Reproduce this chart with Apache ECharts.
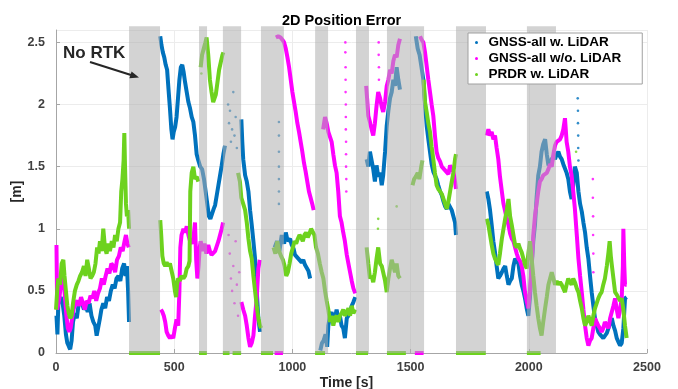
<!DOCTYPE html>
<html>
<head>
<meta charset="utf-8">
<title>2D Position Error</title>
<script src="https://cdn.jsdelivr.net/npm/echarts@6/dist/echarts.min.js"></script>
<style>
    html, body { margin: 0; padding: 0; background: #fff; }
    #chart { width: 678px; height: 389px; }
</style>
</head>
<body>
<div id="chart"></div>
<script>
// time axis [s] and error axis [m]
var xTicks = [0, 500, 1000, 1500, 2000, 2500];
var yTicks = [0, 0.5, 1, 1.5, 2, 2.5];

// "No RTK" periods [start, end] in s
var noRtk = [[309, 440], [605, 639], [706, 783], [867, 964], [1096, 1151],
    [1269, 1324], [1400, 1557], [1692, 1819], [1992, 2115]];

var names = ['GNSS-all w. LiDAR', 'GNSS-all w/o. LiDAR', 'PRDR w. LiDAR'];

// GNSS-all w. LiDAR, one array per continuous piece
var blueSegs = [
    [[2,0.3],[6,0.15],[10,0.4],[15,0.42],[20,0.45],[28,0.4],[35,0.3],[42,0.15],[48,0.08],[55,0.05],[60,0.03],[66,0.1],[72,0.25],[80,0.32],[88,0.28],[95,0.38],[102,0.42],[110,0.4],[118,0.35],[126,0.38],[134,0.33],[142,0.4],[150,0.3],[158,0.25],[166,0.22],[172,0.14],[178,0.2],[185,0.27],[192,0.35],[200,0.4],[208,0.36],[216,0.45],[224,0.42],[232,0.5],[240,0.55],[248,0.52],[256,0.6],[264,0.62],[272,0.58],[280,0.68],[288,0.72],[294,0.62],[300,0.7],[305,0.5],[309,0.25]],
    [[441,2.55],[446,2.48],[452,2.42],[458,2.38],[464,2.32],[470,2.28],[476,2.12],[482,1.97],[488,1.8],[493,1.72],[498,1.78],[504,1.82],[510,1.9],[516,2.05],[522,2.2],[528,2.3],[534,2.32],[540,2.26],[546,2.18],[553,2.1],[560,2.02],[567,1.97],[574,1.9],[581,1.86],[588,1.75],[595,1.6],[602,1.55],[610,1.5],[618,1.48],[626,1.4],[633,1.3],[640,1.2],[647,1.1],[653,1.08],[660,1.12],[667,1.16],[673,1.19],[680,1.27],[687,1.35],[694,1.43],[701,1.51],[708,1.6],[715,1.67]],
    [[784,1.88],[788,1.7],[792,1.56],[800,1.43],[807,1.38],[814,1.3],[821,1.15],[828,1.03],[835,0.9],[842,0.76],[849,0.5],[856,0.28],[863,0.17]],
    [[925,0.85],[935,0.9],[945,0.82],[955,0.95],[965,0.88],[972,0.97],[980,0.9],[990,0.92],[997,0.87],[1005,0.84],[1011,0.79],[1018,0.8],[1025,0.76],[1032,0.77],[1039,0.73],[1046,0.75],[1053,0.71],[1060,0.72],[1068,0.66],[1075,0.6]],
    [[1118,0.02],[1125,0.08],[1132,0.1],[1140,0.15],[1147,0.05],[1152,0.22],[1159,0.3],[1166,0.33],[1173,0.25],[1180,0.28],[1187,0.35],[1194,0.28],[1201,0.3],[1208,0.22],[1215,0.2],[1222,0.12],[1230,0.28],[1237,0.3],[1244,0.33],[1251,0.38],[1258,0.41],[1266,0.45]],
    [[1314,1.56],[1321,1.5],[1328,1.62],[1335,1.55],[1342,1.48],[1349,1.38],[1356,1.51],[1363,1.42],[1371,1.45],[1378,1.35],[1384,1.43],[1392,1.62],[1399,1.83],[1406,1.95],[1413,2.05],[1420,2.1],[1427,2.2],[1434,2.15],[1441,2.3],[1448,2.2],[1455,2.12]],
    [[1522,2.55],[1530,2.45],[1538,2.4],[1546,2.3],[1554,2.2],[1561,2.0],[1568,1.83],[1575,1.72],[1582,1.62],[1589,1.52],[1596,1.46],[1603,1.43],[1610,1.4],[1617,1.35],[1625,1.3],[1632,1.27],[1639,1.22],[1646,1.18],[1653,1.16],[1660,1.2],[1667,1.19],[1674,1.15],[1681,1.14],[1688,1.05],[1692,0.95]],
    [[1822,1.3],[1829,1.24],[1836,1.15],[1843,1.03],[1850,0.9],[1857,0.81],[1864,0.7],[1871,0.6],[1878,0.62],[1886,0.65],[1893,0.68],[1900,0.7],[1907,0.62],[1914,0.55],[1921,0.58],[1928,0.6],[1935,0.7],[1942,0.76],[1949,0.74],[1956,0.72],[1963,0.62],[1970,0.55],[1977,0.5],[1984,0.44],[1991,0.36],[1998,0.3],[2005,0.45],[2012,0.7],[2019,0.9],[2026,1.03],[2033,1.25],[2040,1.43],[2047,1.5],[2054,1.62],[2061,1.68],[2069,1.72],[2076,1.6],[2083,1.51],[2090,1.54],[2097,1.54],[2104,1.58],[2111,1.56],[2118,1.6],[2125,1.62],[2132,1.58],[2139,1.56],[2146,1.52],[2153,1.51],[2160,1.45],[2167,1.4],[2174,1.3],[2181,1.24],[2188,1.35],[2195,1.5],[2203,1.45],[2210,1.3],[2217,1.2],[2224,1.14],[2231,1.05],[2238,0.97],[2245,0.85],[2252,0.76],[2259,0.62],[2266,0.49],[2273,0.38],[2280,0.28],[2287,0.22],[2294,0.17],[2301,0.15],[2308,0.14],[2315,0.12],[2322,0.12],[2330,0.16],[2337,0.2],[2344,0.25],[2351,0.28],[2358,0.22],[2365,0.18],[2372,0.12],[2379,0.09],[2386,0.06],[2393,0.08],[2400,0.2],[2407,0.44],[2414,0.45]]
];
var blueDots = [[728,2.0],[732,1.85],[736,1.95],[740,1.7],[745,1.8],[750,2.1],[755,1.75],[760,1.9],[765,1.65],
    [943,1.86],[943,1.75],[943,1.62],[943,1.5],[943,1.4],[943,1.3],[943,1.2],
    [2205,2.35],[2207,2.2],[2207,2.05],[2208,1.95],[2208,1.85],[2209,1.75],[2209,1.65],[2210,1.55]];

// GNSS-all w/o. LiDAR
var magentaSegs = [
    [[2,0.87],[5,0.35],[10,0.4],[15,0.45],[20,0.55],[26,0.62],[32,0.58],[38,0.45],[44,0.3],[50,0.2],[56,0.17],[62,0.2],[68,0.28],[74,0.35],[82,0.4],[90,0.42],[98,0.38],[106,0.45],[114,0.4],[122,0.35],[130,0.42],[138,0.4],[146,0.46],[154,0.44],[162,0.5],[170,0.42],[178,0.48],[186,0.52],[194,0.6],[202,0.55],[210,0.62],[218,0.68],[226,0.64],[234,0.72],[242,0.7],[250,0.65],[258,0.75],[266,0.78],[274,0.85],[282,0.82],[290,0.9],[296,0.95],[302,0.88],[308,0.85]],
    [[444,0.35],[450,0.33],[456,0.3],[462,0.25],[468,0.17],[475,0.14],[482,0.12],[489,0.14],[496,0.12],[503,0.2],[510,0.27],[517,0.22],[522,0.5],[526,0.85],[531,0.95],[539,1.0],[546,0.97],[553,1.02],[560,0.95],[567,0.9],[574,0.88],[581,0.92],[588,1.05],[593,0.75],[598,0.6],[603,0.7],[608,0.85],[612,0.9],[620,0.82],[628,0.88],[636,0.8],[644,0.87],[651,0.82],[658,0.79],[665,0.78],[673,0.82],[680,0.86],[687,0.9],[694,0.95],[701,1.0],[707,1.05]],
    [[784,0.41],[792,0.35],[800,0.3],[807,0.22],[814,0.12],[821,0.05],[828,0.08],[835,0.14],[842,0.3],[849,0.44],[856,0.68],[862,0.75]],
    [[930,2.54],[940,2.55],[950,2.54],[958,2.52],[965,2.5],[972,2.45],[979,2.38],[986,2.3],[993,2.2],[1000,2.1],[1007,2.02],[1014,1.94],[1021,1.85],[1028,1.78],[1035,1.7],[1042,1.62],[1049,1.53],[1056,1.46],[1063,1.38],[1070,1.3],[1077,1.25],[1084,1.2],[1090,1.15]],
    [[1130,1.8],[1138,1.9],[1145,1.85],[1152,1.78],[1159,1.74],[1166,1.7],[1173,1.6],[1180,1.51],[1187,1.45],[1194,1.3],[1201,1.1],[1208,1.05],[1215,0.97],[1222,0.9],[1230,0.79],[1237,0.72],[1244,0.65],[1251,0.58],[1258,0.52],[1266,0.48]],
    [[1312,2.15],[1316,2.05],[1321,1.91],[1328,1.86],[1335,1.8],[1342,1.75],[1349,1.85],[1356,1.99],[1363,2.1],[1371,2.05],[1378,1.98],[1384,1.94],[1392,2.02],[1399,2.15],[1406,2.2],[1413,2.28],[1420,2.25],[1427,2.35],[1434,2.4],[1441,2.38],[1448,2.48],[1455,2.53]],
    [[1540,2.55],[1547,2.52],[1554,2.5],[1561,2.42],[1568,2.31],[1575,2.2],[1582,2.1],[1589,2.0],[1596,1.91],[1603,1.75],[1610,1.62],[1617,1.57],[1625,1.54],[1632,1.5],[1639,1.51],[1646,1.47],[1653,1.46],[1660,1.44],[1667,1.51],[1674,1.48],[1681,1.46],[1688,1.38],[1692,1.32]],
    [[1822,1.75],[1829,1.8],[1836,1.75],[1843,1.78],[1850,1.72],[1857,1.75],[1864,1.65],[1871,1.56],[1878,1.42],[1886,1.3],[1893,1.2],[1900,1.14],[1907,1.08],[1914,1.03],[1921,0.96],[1928,0.92],[1935,0.9],[1942,0.9],[1949,0.8],[1956,0.76],[1963,0.74],[1970,0.7],[1977,0.62],[1984,0.49],[1991,0.42],[1998,0.36],[2005,0.5],[2012,0.7],[2019,0.95],[2026,1.1],[2033,1.2],[2040,1.3],[2047,1.38],[2054,1.4],[2061,1.43],[2069,1.43],[2076,1.45],[2083,1.48],[2090,1.52],[2097,1.5],[2104,1.6],[2111,1.67],[2118,1.7],[2125,1.7],[2132,1.72],[2139,1.75],[2146,1.8],[2153,1.89],[2160,1.7],[2167,1.62],[2174,1.5],[2181,1.43],[2188,1.3],[2195,1.16],[2203,0.95],[2210,0.76],[2217,0.62],[2224,0.49],[2231,0.35],[2238,0.22],[2245,0.12],[2252,0.06],[2259,0.1],[2266,0.12],[2273,0.2],[2280,0.28],[2287,0.25],[2294,0.22],[2301,0.2],[2308,0.17],[2315,0.2],[2322,0.25],[2330,0.22],[2337,0.2],[2344,0.28],[2351,0.33],[2358,0.38],[2365,0.44],[2372,0.35],[2379,0.28],[2386,0.35],[2393,0.44],[2398,0.7],[2400,1.0],[2404,0.7],[2407,0.55],[2414,0.55]],
    [[925,0],[960,0]],
    [[1518,0],[1555,0]]
];
var magentaDots = [[730,0.95],[735,0.8],[740,0.6],[745,0.5],[750,0.7],[755,0.4],[760,0.9],[765,0.55],[770,0.3],[775,0.65],
    [1224,2.5],[1224,2.42],[1225,2.3],[1225,2.2],[1225,2.1],[1226,2.0],[1226,1.9],[1226,1.8],[1227,1.7],[1227,1.6],[1227,1.5],[1228,1.4],[1228,1.3],
    [1365,2.5],[1365,2.4],[1366,2.3],[1366,2.2],
    [2271,1.4],[2271,1.25],[2272,1.1],[2272,0.95],[2273,0.8],[2273,0.65]];

// PRDR w. LiDAR
var greenSegs = [
    [[0,0.35],[5,0.5],[10,0.6],[17,0.55],[24,0.72],[31,0.75],[36,0.62],[42,0.5],[48,0.38],[54,0.32],[60,0.28],[66,0.3],[72,0.4],[80,0.5],[88,0.55],[95,0.58],[102,0.62],[110,0.65],[118,0.7],[125,0.62],[132,0.75],[139,0.68],[146,0.6],[153,0.62],[160,0.65],[167,0.72],[174,0.85],[180,0.8],[186,0.9],[193,0.82],[200,1.0],[207,0.85],[214,0.8],[221,0.88],[228,0.82],[236,0.9],[243,0.85],[250,0.95],[257,0.9],[264,1.0],[271,1.05],[276,1.3],[281,1.4],[286,1.55],[289,1.77],[292,1.5],[296,1.2],[300,1.1],[305,1.15],[309,1.0]],
    [[441,1.07],[445,0.95],[450,0.78],[456,0.72],[462,0.7],[468,0.73],[475,0.7],[482,0.72],[489,0.66],[496,0.6],[503,0.5],[508,0.45],[512,0.55],[517,0.6],[524,0.58],[531,0.62],[539,0.6],[546,0.62],[553,0.68],[560,0.7],[565,0.74],[568,1.3],[574,1.45],[581,1.5],[588,1.4],[595,1.42],[602,1.38]],
    [[612,2.3],[618,2.4],[625,2.45],[632,2.5],[637,2.54],[644,2.4],[651,2.2],[658,2.1],[665,2.02],[670,2.02],[676,2.08],[683,2.18],[690,2.28],[697,2.34],[704,2.4],[708,2.42]],
    [[770,1.45],[778,1.38],[784,1.25],[792,1.2],[800,1.15],[807,1.05],[814,0.92],[821,0.82],[828,0.76],[835,0.62],[842,0.5],[849,0.38],[856,0.28],[863,0.22],[868,0.2]],
    [[920,0.85],[928,0.8],[936,0.9],[944,0.82],[952,0.78],[960,0.75],[967,0.7],[974,0.62],[981,0.65],[988,0.72],[995,0.8],[1002,0.85],[1009,0.9],[1016,0.88],[1023,0.92],[1030,0.95],[1037,0.93],[1044,0.9],[1051,0.95],[1058,0.97],[1065,0.93],[1072,0.96],[1079,1.0],[1086,1.0],[1093,0.95],[1100,0.85],[1108,0.8],[1116,0.72],[1124,0.65],[1131,0.6],[1138,0.5],[1145,0.42],[1152,0.35],[1159,0.25],[1166,0.3],[1173,0.22],[1180,0.28],[1187,0.3],[1194,0.25],[1201,0.3],[1208,0.32],[1215,0.35],[1222,0.3],[1230,0.33],[1237,0.36],[1244,0.3],[1251,0.38],[1258,0.32],[1266,0.35]],
    [[1314,0.85],[1321,0.72],[1328,0.6],[1335,0.62],[1342,0.57],[1349,0.65],[1356,0.76],[1363,0.85],[1371,0.72],[1378,0.7],[1384,0.65],[1392,0.58],[1399,0.49],[1406,0.6],[1413,0.68],[1420,0.75],[1427,0.7],[1434,0.65],[1441,0.72],[1448,0.62],[1455,0.6]],
    [[1508,1.35],[1515,1.4],[1522,1.42],[1530,1.45],[1537,1.4],[1545,1.5],[1550,1.55]],
    [[1555,2.2],[1561,2.02],[1568,1.94],[1575,1.85],[1582,1.78],[1589,1.66],[1596,1.56],[1603,1.45],[1610,1.35],[1617,1.32],[1625,1.3],[1632,1.28],[1639,1.24],[1646,1.2],[1653,1.16],[1660,1.22],[1667,1.3],[1674,1.38],[1681,1.45],[1688,1.56],[1692,1.6]],
    [[1822,1.08],[1829,1.03],[1836,0.95],[1843,0.87],[1850,0.8],[1857,0.76],[1864,0.73],[1871,0.71],[1878,0.8],[1886,0.92],[1893,1.0],[1900,1.08],[1907,1.15],[1914,1.24],[1921,1.1],[1928,1.03],[1935,0.95],[1942,0.87],[1949,0.85],[1956,0.88],[1963,0.84],[1970,0.81],[1977,0.76],[1984,0.71],[1991,0.68],[1998,0.8],[2005,0.9],[2012,0.76],[2019,0.62],[2026,0.49],[2033,0.38],[2040,0.28],[2047,0.2],[2054,0.14],[2061,0.25],[2069,0.36],[2076,0.45],[2083,0.55],[2090,0.6],[2097,0.65],[2104,0.6],[2111,0.55],[2118,0.58],[2125,0.55],[2132,0.57],[2139,0.55],[2146,0.52],[2153,0.49],[2160,0.55],[2167,0.6],[2174,0.57],[2181,0.55],[2188,0.6],[2195,0.57],[2203,0.52],[2210,0.49],[2217,0.42],[2224,0.36],[2231,0.28],[2238,0.22],[2245,0.25],[2252,0.3],[2259,0.26],[2266,0.22],[2273,0.3],[2280,0.36],[2287,0.4],[2294,0.44],[2301,0.47],[2308,0.49],[2315,0.55],[2322,0.6],[2330,0.7],[2337,0.81],[2342,0.9],[2347,0.78],[2351,0.71],[2358,0.6],[2365,0.49],[2372,0.47],[2379,0.46],[2386,0.42],[2393,0.44],[2400,0.35],[2407,0.22],[2414,0.12]],
    [[309,0],[440,0]], [[605,0],[638,0]], [[706,0],[734,0]], [[747,0],[783,0]], [[867,0],[918,0]],
    [[1096,0],[1138,0]], [[1269,0],[1320,0]], [[1400,0],[1480,0]], [[1692,0],[1818,0]], [[1992,0],[2050,0]]
];
var greenDots = [[1362,1.0],[1363,1.08],[1441,1.18],[2200,1.62],[615,2.25],[616,2.35]];

var colors = ['#0072BD', '#FF00FF', '#6DD21E'];

// glue the pieces together with a gap marker so the line breaks between them
function joinSegs(segs) {
    var out = [];
    for (var i = 0; i < segs.length; i++) {
        if (i > 0) out.push(['-', '-']);
        out = out.concat(segs[i]);
    }
    return out;
}

var chart = echarts.init(document.getElementById('chart'));

var tickFont = { color: '#404040', fontSize: 12.5, fontWeight: 'bold', fontFamily: 'Liberation Sans, Arial, sans-serif' };

function lineSeries(name, color, segs) {
    return {
        name: name,
        type: 'line',
        data: joinSegs(segs),
        showSymbol: false,
        symbol: 'circle',
        connectNulls: false,
        lineStyle: { color: color, width: 4 },
        itemStyle: { color: color },
        z: 2
    };
}
function dotSeries(name, color, pts) {
    return {
        name: name,
        type: 'scatter',
        data: pts,
        symbolSize: 2.6,
        itemStyle: { color: color },
        z: 2
    };
}

var option = {
    animation: false,
    textStyle: { fontFamily: 'Liberation Sans, Arial, sans-serif' },
    title: {
        text: '2D Position Error',
        left: 277,
        top: 8,
        textStyle: { fontSize: 14.5, fontWeight: 'bold', color: '#000' }
    },
    grid: { left: 56, right: 31, top: 30, bottom: 36, containLabel: false, outerBoundsMode: 'none' },
    legend: {
        data: names,
        orient: 'vertical',
        left: 468,
        top: 33,
        icon: 'circle',
        itemWidth: 14,
        itemHeight: 3,
        itemGap: 1,
        padding: [2, 21, 2, 7],
        backgroundColor: '#fff',
        borderColor: '#a0a0a0',
        borderWidth: 1,
        borderRadius: 0,
        textStyle: { fontSize: 13.5, fontWeight: 'bold', color: '#000', lineHeight: 15 },
        z: 20
    },
    xAxis: {
        type: 'value',
        min: xTicks[0],
        max: xTicks[xTicks.length - 1],
        interval: 500,
        name: 'Time [s]',
        nameLocation: 'middle',
        nameGap: 23,
        nameMoveOverlap: false,
        nameTextStyle: { fontSize: 14, fontWeight: 'bold', color: '#262626', padding: [0, 10, 0, 0] },
        axisLine: { show: true, lineStyle: { color: '#a6a6a6', width: 1 } },
        axisTick: { show: true, inside: true, length: 4, lineStyle: { color: '#a6a6a6' } },
        axisLabel: Object.assign({ margin: 8, formatter: function (v) { return String(v); } }, tickFont),
        splitLine: { show: true, lineStyle: { color: '#ececec', width: 1 } }
    },
    yAxis: {
        type: 'value',
        min: yTicks[0],
        max: 2.6,
        interval: 0.5,
        name: '[m]',
        nameLocation: 'middle',
        nameGap: 32,
        nameMoveOverlap: false,
        nameRotate: 90,
        nameTextStyle: { fontSize: 14, fontWeight: 'bold', color: '#262626' },
        axisLine: { show: true, lineStyle: { color: '#a6a6a6', width: 1 } },
        axisTick: { show: true, inside: true, length: 4, lineStyle: { color: '#a6a6a6' } },
        axisLabel: Object.assign({ margin: 11, showMaxLabel: false, formatter: function (v) { return String(v); } }, tickFont),
        splitLine: { show: true, lineStyle: { color: '#ececec', width: 1 } }
    },
    graphic: [
        {
            type: 'text', left: 63, top: 45, z: 30,
            style: { text: 'No RTK', fontSize: 17, fontWeight: 'bold', fill: '#262626', fontFamily: 'Liberation Sans, Arial, sans-serif' }
        },
        {
            type: 'line', z: 30,
            shape: { x1: 90, y1: 62, x2: 131, y2: 75 },
            style: { stroke: '#262626', lineWidth: 2.2 }
        },
        {
            type: 'polygon', z: 30,
            shape: { points: [[139, 77.5], [129.4, 78.3], [131.6, 71.4]] },
            style: { fill: '#262626' }
        }
    ],
    series: [
        lineSeries(names[0], colors[0], blueSegs),
        lineSeries(names[1], colors[1], magentaSegs),
        lineSeries(names[2], colors[2], greenSegs),
        dotSeries(names[0], colors[0], blueDots),
        dotSeries(names[1], colors[1], magentaDots),
        dotSeries(names[2], colors[2], greenDots),
        {
            // grey "No RTK" bands, drawn over the data like in the original
            type: 'custom',
            data: noRtk.map(function (r) { return [r[0], r[1], 0]; }),
            encode: { x: [0, 1], y: 2 },
            z: 10,
            silent: true,
            renderItem: function (params, api) {
                var p1 = api.coord([api.value(0), 2.63]);
                var p2 = api.coord([api.value(1), 0]);
                return {
                    type: 'rect',
                    shape: { x: p1[0], y: p1[1], width: p2[0] - p1[0], height: p2[1] - p1[1] },
                    style: { fill: 'rgba(175,175,175,0.55)' }
                };
            }
        }
    ]
};

chart.setOption(option);
</script>
</body>
</html>
